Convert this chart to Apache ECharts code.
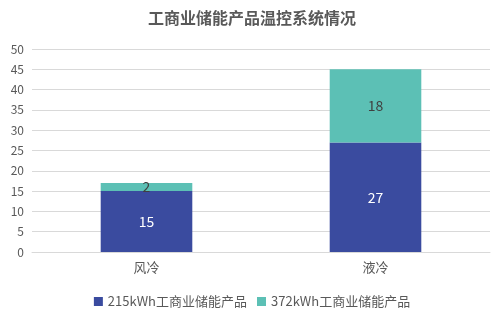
<!DOCTYPE html>
<html><head><meta charset="utf-8">
<script src="https://cdn.jsdelivr.net/npm/echarts@6/dist/echarts.min.js"></script>
<style>html,body{margin:0;padding:0;background:#fff}#c{width:504px;height:324px}</style>
</head><body><div id="c"></div>
<script>
const categories = ['风冷', '液冷'];
const series215 = [15, 27];
const series372 = [2, 18];
const seriesNames = ['215kWh工商业储能产品', '372kWh工商业储能产品'];
const title = '工商业储能产品温控系统情况';

const font = '"Noto Sans CJK SC", "Noto Sans", sans-serif';
const chart = echarts.init(document.getElementById('c'), null, {renderer: 'canvas'});
chart.setOption({
  animation: false,
  textStyle: {fontFamily: font},
  title: {text: title, left: 'center', top: 5,
    textStyle: {fontSize: 16, fontWeight: 'bold', color: '#595959', fontFamily: font}},
  legend: {bottom: 11, left: 'center', itemWidth: 9, itemHeight: 9, itemGap: 10, icon: 'rect',
    textStyle: {fontSize: 13, color: '#595959', fontFamily: font}},
  grid: {left: 32, right: 14, top: 49, bottom: 72, containLabel: false},
  xAxis: {type: 'category', data: categories,
    axisLine: {lineStyle: {color: '#d9d9d9'}}, axisTick: {show: false},
    axisLabel: {color: '#595959', fontSize: 13, margin: 9, fontFamily: font}},
  yAxis: {type: 'value', min: 0, max: 50, interval: 5,
    axisLine: {show: false}, axisTick: {show: false},
    splitLine: {lineStyle: {color: '#d9d9d9'}},
    axisLabel: {color: '#595959', fontSize: 12, margin: 8, fontFamily: font}},
  series: [
    {name: seriesNames[0], type: 'bar', stack: 's', data: series215, barWidth: '40%',
      itemStyle: {color: '#3A4B9F'},
      label: {show: true, position: 'inside', color: '#ffffff', fontSize: 14, fontFamily: font}},
    {name: seriesNames[1], type: 'bar', stack: 's', data: series372, barWidth: '40%',
      itemStyle: {color: '#5CC0B5'},
      label: {show: true, position: 'inside', color: '#404040', fontSize: 14, fontFamily: font}}
  ]
});
</script></body></html>
